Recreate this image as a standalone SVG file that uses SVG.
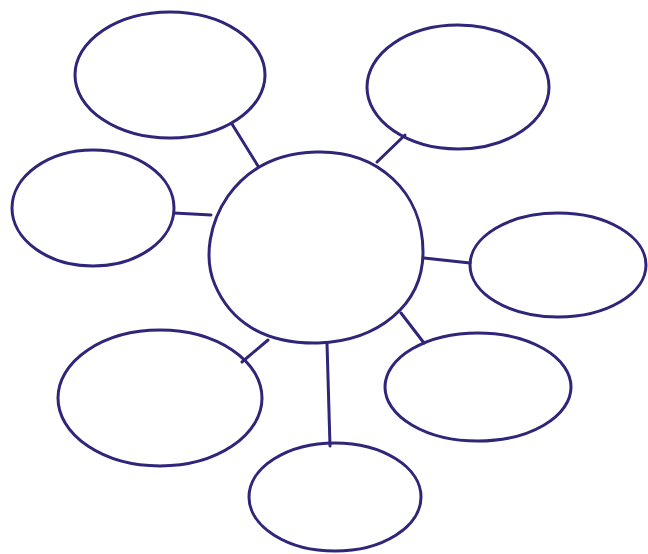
<svg xmlns="http://www.w3.org/2000/svg" width="648" height="554" viewBox="0 0 648 554">
<style>
.n{fill:none;stroke:#2f2679;stroke-width:3}
.c line{stroke:#2f2679;stroke-width:3;stroke-linecap:round}
</style>
<rect width="648" height="554" fill="#ffffff"/>
<g class="c" id="connectors">
<line x1="232" y1="124" x2="258" y2="166"/>
<line x1="405" y1="135" x2="377" y2="162"/>
<line x1="174" y1="213" x2="211" y2="215"/>
<line x1="424" y1="258" x2="470" y2="263"/>
<line x1="268" y1="340" x2="242" y2="362"/>
<line x1="401" y1="313" x2="424" y2="343"/>
<line x1="327" y1="343" x2="330" y2="446"/>
</g>
<g id="center"><path class="n" d="M316,152 C378,150 423,192 423,252 C423,305 378,341 318,343 C262,344 230,320 215,285 C203,257 210,222 228,196 C248,168 278,153 316,152 Z"/></g>
<g id="topleft"><ellipse class="n" cx="170" cy="75" rx="95" ry="63"/></g>
<g id="topright"><ellipse class="n" cx="458" cy="87" rx="91" ry="62"/></g>
<g id="left"><ellipse class="n" cx="93" cy="208" rx="81" ry="58"/></g>
<g id="right"><ellipse class="n" cx="558" cy="265" rx="88" ry="52"/></g>
<g id="bottomleft"><ellipse class="n" cx="160" cy="398" rx="102" ry="68"/></g>
<g id="bottomright"><ellipse class="n" cx="478" cy="387" rx="93" ry="54"/></g>
<g id="bottom"><ellipse class="n" cx="335" cy="497" rx="86" ry="54"/></g>
</svg>
